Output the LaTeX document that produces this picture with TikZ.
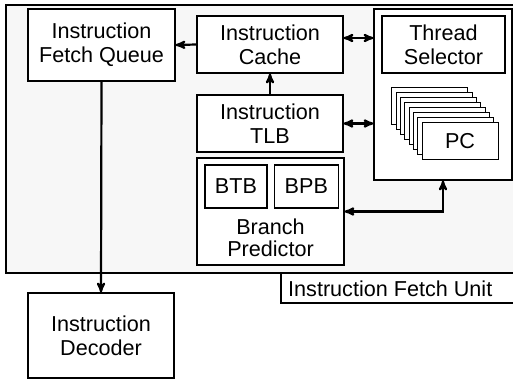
\documentclass[tikz,border=0pt]{standalone}
\usepackage{fontspec}
\setmainfont{Liberation Sans}
\usetikzlibrary{arrows}
\usetikzlibrary{positioning}

\begin{document}
\begin{tikzpicture}[x=1pt,y=-1pt,>=stealth',
    block/.style={rectangle,draw,line width=1.3pt,fill=white,align=center,
      inner sep=0pt,font=\fontsize{21.6}{24}\selectfont},
    pcbox/.style={block,line width=1pt,minimum width=76pt,minimum height=37pt},
    link/.style={line width=2.2pt}]

  \useasboundingbox (0,0) rectangle (513,379);

  % fetch unit frame
  \fill[black!3] (6,5) rectangle (513,273);
  \draw[line width=1.3pt] (513,5) -- (6,5) -- (6,273) -- (513,273);

  \node[block,minimum width=147pt,minimum height=72pt] (ifq) at (101.5,45) {Instruction\\Fetch Queue};
  \node[block,minimum width=146pt,minimum height=57pt] (cache) at (270,44.5) {Instruction\\Cache};
  \node[block,minimum width=146pt,minimum height=57pt] (tlb) at (270,123.5) {Instruction\\TLB};
  \node[block,minimum width=147pt,minimum height=107pt] (bp) at (270.5,211.5) {};
  \node[block,minimum width=62pt,minimum height=43pt] (btb) at (236,186.5) {BTB};
  \node[block,minimum width=64pt,minimum height=43pt] (bpb) [right=6pt of btb] {BPB};
  \node[font=\fontsize{21.6}{22}\selectfont,align=center,inner sep=0pt] (bpname) at (270.5,238) {Branch\\Predictor};

  \node[block,minimum width=138pt,minimum height=171pt] (thread) at (443,94.5) {};
  \node[block,minimum width=123pt,minimum height=57pt] (ts) at (443.5,44.5) {Thread\\Selector};
  \foreach \i in {7,6,...,1}
    \node[pcbox] (pc\i) at (460-4.3*\i,141.5-5*\i) {};
  \node[pcbox] (pc) at (460,141.5) {PC};

  \node[block,minimum width=146pt,minimum height=85pt] (dec) at (101,335.5) {Instruction\\Decoder};

  % label of the fetch unit
  \node[font=\fontsize{21.6}{24}\selectfont,anchor=west,inner sep=0pt] (ifu) at (288,288.5) {Instruction Fetch Unit};
  \draw[line width=1.3pt] (281,273) |- (513,303);

  % connections
  \draw[link,->] (ifq.south) -- (dec.north);
  \draw[link,->] (cache.west) -- (ifq.east);
  \draw[link,<->] ([yshift=6.5pt]cache.east) -- ([yshift=6.5pt]cache.east -| thread.west);
  \draw[link,->] (tlb.north) -- (cache.south);
  \draw[link,<->] (tlb.east) -- (tlb.east -| thread.west);
  \draw[link,<->] (thread.south) |- (bp.east);
\end{tikzpicture}
\end{document}
